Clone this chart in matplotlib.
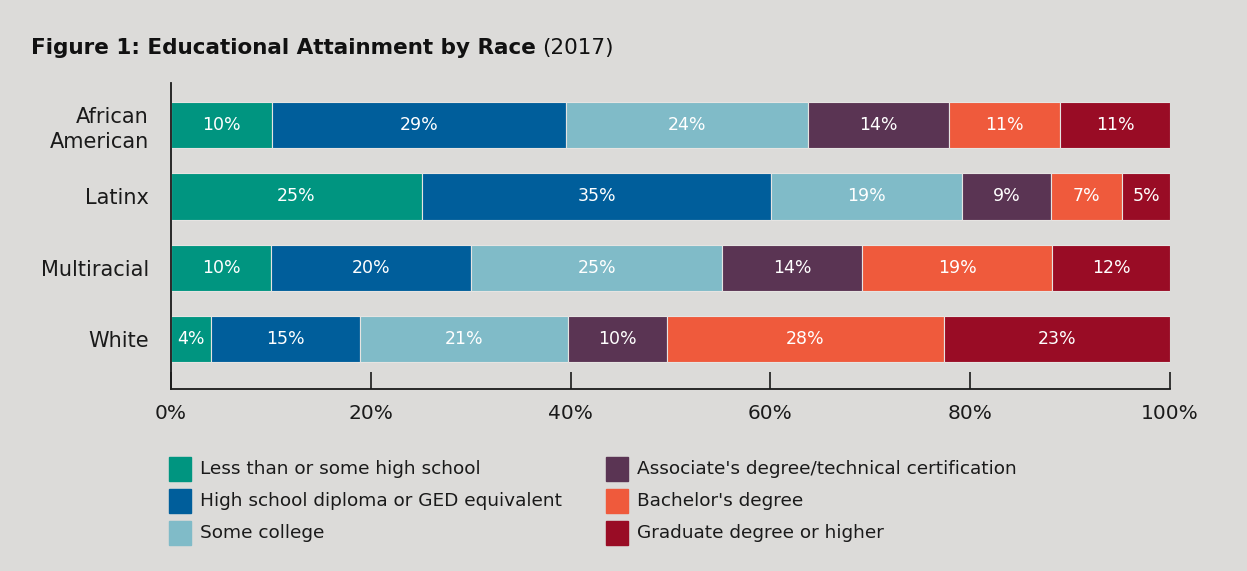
import matplotlib
matplotlib.use("Agg")
import matplotlib.pyplot as plt
from matplotlib.patches import Rectangle
import numpy as np

plt.rcParams['font.family'] = ['DejaVu Sans']

races = ["African\nAmerican", "Latinx", "Multiracial", "White"]
categories = ["Less than or some high school",
              "High school diploma or GED equivalent",
              "Some college",
              "Associate's degree/technical certification",
              "Bachelor's degree",
              "Graduate degree or higher"]
less_hs = [10.1, 25.1, 10.0, 4.0]
hs_diploma = [29.4, 35.0, 20.0, 14.9]
some_college = [24.3, 19.1, 25.2, 20.8]
associate = [14.1, 8.9, 14.0, 9.9]
bachelor = [11.1, 7.1, 19.0, 27.8]
graduate = [11.0, 4.8, 11.8, 22.6]
series = [less_hs, hs_diploma, some_college, associate, bachelor, graduate]
colors = ["#009580", "#005E9B", "#80BBC8", "#5A3453", "#EF5A3C", "#990C25"]
xticks = [0, 20, 40, 60, 80, 100]
xticklabels = ["0%", "20%", "40%", "60%", "80%", "100%"]

BG = "#DCDBD9"
TXT = "#1a1a1a"
fig = plt.figure(figsize=(12.47, 5.71), dpi=100, facecolor=BG)
W, H = 1247, 571
ax = fig.add_axes([171 / W, 1 - 389 / H, (1170 - 171) / W, (389 - 83) / H])
ax.set_facecolor(BG)

y = np.arange(len(races))
left = np.zeros(len(races))
for vals, c in zip(series, colors):
    vals = np.array(vals)
    ax.barh(y, vals, left=left, height=0.65, color=c, edgecolor="#E6E4E2", linewidth=0.8)
    for yi, l, v in zip(y, left, vals):
        ax.text(l + v / 2, yi, f"{round(v)}%", ha="center", va="center",
                color="white", fontsize=12.5)
    left += vals

ax.set_ylim(3.70, -0.59)
ax.set_xlim(0, 100)
ax.set_yticks(y)
ax.set_yticklabels(races, fontsize=15, color=TXT, linespacing=1.3)
ax.set_xticks(xticks)
ax.set_xticklabels(xticklabels, fontsize=14.5, color=TXT)
ax.tick_params(axis="y", length=0, pad=16)
ax.tick_params(axis="x", direction="in", length=12, width=1.2, color=TXT, pad=11)
for s in ["top", "right"]:
    ax.spines[s].set_visible(False)
for s in ["left", "bottom"]:
    ax.spines[s].set_color(TXT)
    ax.spines[s].set_linewidth(1.3)

t1 = fig.text(31 / W, 1 - 48 / H, "Figure 1: Educational Attainment by Race", fontsize=15.5,
              fontweight="bold", color="#111111", va="center", ha="left")
fig.canvas.draw()
bb = t1.get_window_extent(fig.canvas.get_renderer())
fig.text((bb.x1 + 6) / W, 1 - 48 / H, "(2017)", fontsize=15.5, color="#111111",
         va="center", ha="left")

# legend
col_x = [169, 606]
row_y = [469, 501, 533]
for i, (lab, c) in enumerate(zip(categories, colors)):
    cx = col_x[i // 3]
    cy = row_y[i % 3]
    fig.add_artist(Rectangle((cx / W, 1 - (cy + 12) / H), 22 / W, 24 / H,
                             transform=fig.transFigure, color=c))
    fig.text((cx + 31) / W, 1 - cy / H, lab, fontsize=13.3, color=TXT,
             va="center", ha="left")

fig.savefig("out.png", dpi=100, facecolor=BG)
